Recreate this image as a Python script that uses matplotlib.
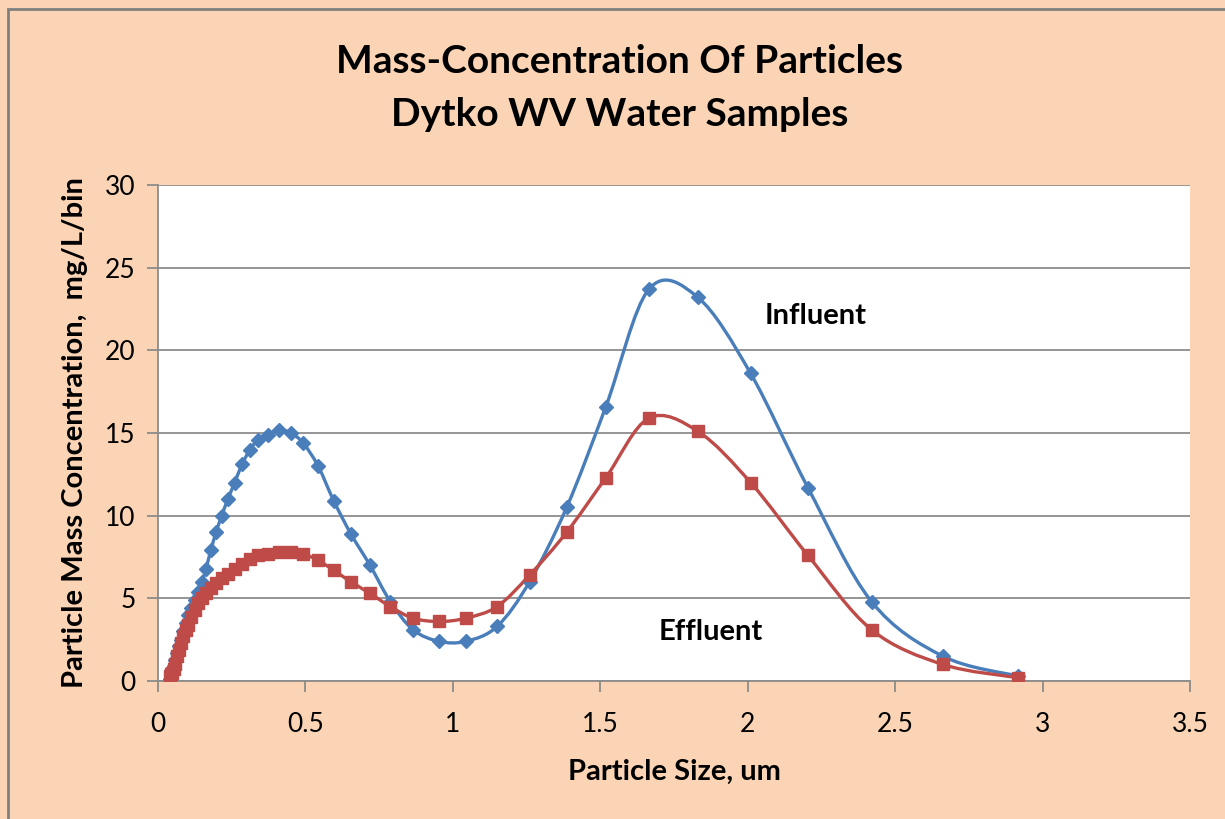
import numpy as np
import matplotlib.pyplot as plt
from matplotlib.path import Path
from matplotlib.patches import PathPatch, Rectangle
##################################################################
plt.rcParams['font.family'] = ['Lato', 'DejaVu Sans']
##################################################################
size = [0.041, 0.045, 0.049, 0.054, 0.059, 0.065, 0.071, 0.078, 0.085, 0.094,
        0.103, 0.113, 0.124, 0.136, 0.149, 0.163, 0.179, 0.197, 0.216, 0.237,
        0.260, 0.285, 0.312, 0.340, 0.372, 0.409, 0.450, 0.492, 0.543, 0.596,
        0.654, 0.719, 0.788, 0.865, 0.953, 1.044, 1.150, 1.260, 1.386, 1.519,
        1.665, 1.831, 2.010, 2.204, 2.420, 2.662, 2.916]
influent = [0.1, 0.3, 0.6, 0.9, 1.3, 1.7, 2.1, 2.5, 3.0, 3.5,
            4.0, 4.4, 4.9, 5.4, 6.0, 6.8, 7.9, 9.0, 10.0, 11.0,
            12.0, 13.1, 14.0, 14.6, 14.9, 15.2, 15.0, 14.4, 13.0, 10.9,
            8.9, 7.0, 4.8, 3.1, 2.4, 2.4, 3.3, 6.0, 10.5, 16.6,
            23.7, 23.2, 18.6, 11.7, 4.8, 1.5, 0.3]
effluent = [0.3, 0.4, 0.5, 0.7, 1.0, 1.5, 1.9, 2.3, 2.7, 3.1,
            3.4, 3.9, 4.3, 4.7, 5.0, 5.3, 5.6, 5.95, 6.25, 6.5,
            6.8, 7.1, 7.4, 7.6, 7.7, 7.8, 7.8, 7.7, 7.3, 6.7,
            6.0, 5.3, 4.5, 3.8, 3.6, 3.8, 4.5, 6.4, 9.0, 12.3,
            15.9, 15.1, 12.0, 7.6, 3.1, 1.0, 0.2]
##################################################################
bg = '#FAD4B4'
blue, red = '#4A7EBB', '#BE4B48'
grey = '#8C8C8C'

def smooth_path(x, y):
    # excel style smoothed line: cubic bezier through the points
    p = np.column_stack([x, y])
    n = len(p)
    verts, codes = [p[0]], [Path.MOVETO]
    for i in range(n - 1):
        p0 = p[max(i - 1, 0)]
        p1, p2 = p[i], p[i + 1]
        p3 = p[min(i + 2, n - 1)]
        verts += [p1 + (p2 - p0) / 6., p2 - (p3 - p1) / 6., p2]
        codes += [Path.CURVE4] * 3
    return Path(verts, codes)

fig = plt.figure(figsize=[12.25, 8.19], dpi=100)
fig.patch.set_facecolor(bg)
fig.patches.append(Rectangle((8/1225., -0.1), 1.2, 1.1 - 9/819., transform=fig.transFigure,
                             fill=False, edgecolor='#7F7F7F', lw=2, zorder=0))
ax = fig.add_axes([158/1225., 1 - 681/819., 1032/1225., 496/819.])
ax.set_facecolor('white')

for vals, col, mk, ms in [(influent, blue, 'D', 7), (effluent, red, 's', 9)]:
    ax.add_patch(PathPatch(smooth_path(size, vals), fill=False, edgecolor=col, lw=2.4, zorder=3))
    ax.plot(size, vals, ls='none', marker=mk, ms=ms, color=col, mec=col, zorder=4)

ax.set_xlim(0, 3.5)
ax.set_ylim(0, 30)
ax.set_xticks(np.arange(0, 3.51, 0.5))
ax.set_xticklabels(['0', '0.5', '1', '1.5', '2', '2.5', '3', '3.5'])
ax.set_yticks(np.arange(0, 31, 5))
ax.yaxis.grid(True, color=grey, lw=1.3)
ax.set_axisbelow(True)
for s in ['top', 'right']:
    ax.spines[s].set_visible(False)
for s in ['left', 'bottom']:
    ax.spines[s].set_color(grey)
    ax.spines[s].set_linewidth(1.3)
ax.tick_params(axis='both', direction='out', length=8, width=1.3, color=grey,
               labelsize=19, pad=8)
ax.tick_params(axis='x', pad=14)

ax.set_xlabel('Particle Size, um', fontsize=21, fontweight='bold', labelpad=16)
ax.set_ylabel('Particle Mass Concentration,  mg/L/bin', fontsize=21, fontweight='bold', labelpad=12)

ax.text(2.23, 22.1, 'Influent', fontsize=21, fontweight='bold', ha='center', va='center')
ax.text(1.875, 2.95, 'Effluent', fontsize=21, fontweight='bold', ha='center', va='center')

fig.text(620/1225., 1 - 88/819., 'Mass-Concentration Of Particles\nDytko WV Water Samples',
         ha='center', va='center', fontsize=28, fontweight='bold', linespacing=1.6)
##################################################################
plt.savefig('out.png', dpi=100, facecolor=bg)
